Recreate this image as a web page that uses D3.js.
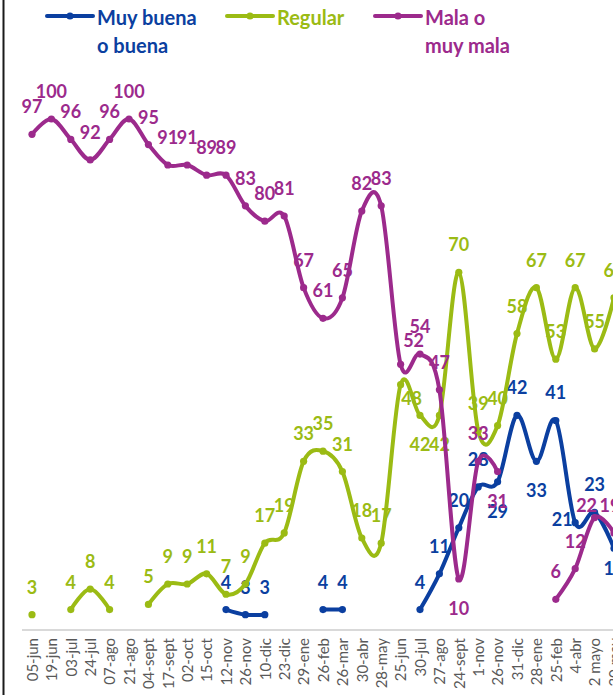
<!DOCTYPE html>
<html>
<head>
<meta charset="utf-8">
<script src="https://cdn.jsdelivr.net/npm/d3@7"></script>
<style>
  body { margin: 0; background: #fff; }
  svg { display: block; font-family: Lato, "Open Sans", sans-serif; }
</style>
</head>
<body>
<div id="chart-area"></div>
<script>
const WIDTH = 613
const HEIGHT = 695

// Data (null = no survey value)
const fechas = ["05-jun", "19-jun", "03-jul", "24-jul", "07-ago", "21-ago", "04-sept", "17-sept",
  "02-oct", "15-oct", "12-nov", "26-nov", "10-dic", "23-dic", "29-ene", "26-feb", "26-mar",
  "30-abr", "28-may", "25-jun", "30-jul", "27-ago", "24-sept", "1-nov", "26-nov", "31-dic",
  "28-ene", "25-feb", "4-abr", "2 mayo", "30 may"]

const buena = [null, null, null, null, null, null, null, null, null, null, 4, 3, 3, null, null,
  4, 4, null, null, null, 4, 11, 20, 28, 29, 42, 33, 41, 21, 23, 16]

const regular = [3, null, 4, 8, 4, null, 5, 9, 9, 11, 7, 9, 17, 19, 33, 35, 31, 18, 17, 48,
  42, 42, 70, 39, 40, 58, 67, 53, 67, 55, 65]

const mala = [97, 100, 96, 92, 96, 100, 95, 91, 91, 89, 89, 83, 80, 81, 67, 61, 65, 82, 83,
  52, 54, 47, 10, 33, 31, null, null, 6, 12, 22, 19]

const seriesNames = ["Muy buena\no buena", "Regular", "Mala o\nmuy mala"]

// label placement: default is above the point, these ones differ
const ABOVE = [0, -21]
const BELOW = [0, 36]
const labelPos = {
  "0-24": BELOW, "0-26": BELOW, "0-28": [-13, 3], "0-30": [0, 27],
  "1-19": [11, 20], "1-20": BELOW, "1-21": BELOW,
  "2-19": [13, -17], "2-22": BELOW, "2-24": BELOW, "2-29": [-8, -6], "2-30": [-4, -21]
}

const colors = ["#0b3fa0", "#9bbb14", "#9c2a8c"]
const allSeries = [buena, regular, mala]

const svg = d3.select("#chart-area").append("svg")
  .attr("width", WIDTH)
  .attr("height", HEIGHT)

// dates repeat (26-nov twice), so the scale runs on the index
const x = d3.scalePoint()
  .domain(d3.range(fechas.length))
  .range([32, 614])

const y = d3.scaleLinear()
  .domain([0, 100])
  .range([630, 119])

// left frame edge
svg.append("line")
  .attr("x1", 3.5).attr("x2", 3.5)
  .attr("y1", 0).attr("y2", HEIGHT)
  .attr("stroke", "#1a1a1a")
  .attr("stroke-width", 2)

// x axis
const xAxis = d3.axisBottom(x)
  .tickSize(0)
  .tickPadding(0)
  .tickFormat(i => fechas[i])
const axisG = svg.append("g")
  .attr("transform", `translate(0, ${y(0)})`)
  .call(xAxis)
axisG.select(".domain")
  .attr("d", `M22,0H${WIDTH}`)
  .attr("stroke", "#d9d9d9")
  .attr("stroke-width", 2)
axisG.selectAll("text")
  .attr("font-family", "Lato, sans-serif")
  .attr("font-size", 15)
  .attr("fill", "#595959")
  .attr("text-anchor", "end")
  .attr("transform", "rotate(-90)")
  .attr("x", -8)
  .attr("y", 0)
  .attr("dy", "0.35em")

const line = d3.line()
  .defined(d => d.v !== null)
  .x(d => x(d.i))
  .y(d => y(d.v))
  .curve(d3.curveCardinal.tension(0))

allSeries.forEach((vals, s) => {
  const pts = vals.map((v, i) => ({ v: v, i: i }))
  const g = svg.append("g")

  g.append("path")
    .datum(pts)
    .attr("d", line)
    .attr("fill", "none")
    .attr("stroke", colors[s])
    .attr("stroke-width", 4)
    .attr("stroke-linecap", "round")

  const valid = pts.filter(d => d.v !== null)

  g.selectAll("circle")
    .data(valid)
    .enter().append("circle")
    .attr("cx", d => x(d.i))
    .attr("cy", d => y(d.v))
    .attr("r", 3.6)
    .attr("fill", colors[s])

  g.selectAll("text")
    .data(valid)
    .enter().append("text")
    .attr("x", d => x(d.i) + (labelPos[s + "-" + d.i] || ABOVE)[0])
    .attr("y", d => y(d.v) + (labelPos[s + "-" + d.i] || ABOVE)[1])
    .attr("text-anchor", "middle")
    .attr("font-size", 18)
    .attr("font-weight", "bold")
    .attr("fill", colors[s])
    .text(d => d.v)
})

// legend
const legendX = [47, 227, 375]
seriesNames.forEach((name, s) => {
  const lg = svg.append("g").attr("transform", `translate(${legendX[s]}, 16)`)
  lg.append("line")
    .attr("x1", 0).attr("x2", 46)
    .attr("stroke", colors[s])
    .attr("stroke-width", 4)
    .attr("stroke-linecap", "round")
  lg.append("circle")
    .attr("cx", 23).attr("r", 3.6)
    .attr("fill", colors[s])
  const t = lg.append("text")
    .attr("x", 50)
    .attr("y", 9)
    .attr("font-size", 20)
    .attr("font-weight", "bold")
    .attr("fill", colors[s])
  name.split("\n").forEach((part, k) => {
    t.append("tspan")
      .attr("x", 50)
      .attr("dy", k === 0 ? 0 : 28)
      .text(part)
  })
})
</script>
</body>
</html>
